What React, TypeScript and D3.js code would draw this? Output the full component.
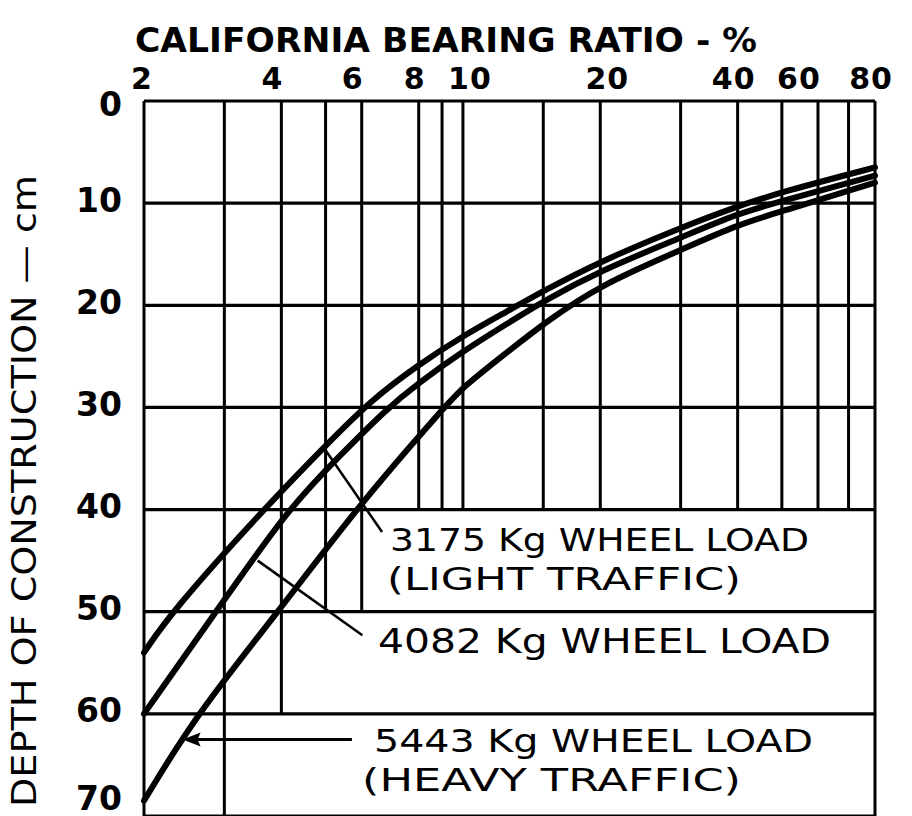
import React from 'react';
import * as d3 from 'd3';

// CBR values (log axis)
const cbrTicks = [2, 4, 6, 8, 10, 20, 40, 60, 80];
const cbrGrid = [2, 3, 4, 5, 6, 8, 9, 10, 15, 20, 30, 40, 50, 60, 70, 80];
// depth where each vertical grid line stops (the label boxes cut them)
const gridStop = [70, 70, 60, 50, 50, 40, 40, 40, 40, 40, 40, 40, 40, 40, 40, 70];
const depthTicks = [0, 10, 20, 30, 40, 50, 60, 70];

// depth of construction (cm) vs CBR (%)
const light3175: [number, number][] = [
  [2, 54.0], [2.3, 50], [3.65, 40], [5.19, 33.0], [6.26, 29.4], [7.94, 25.9],
  [10, 23.0], [12.5, 20.6], [15, 18.6], [20, 15.7], [30, 12.4], [40, 10.3],
  [50, 8.9], [80, 6.5],
];
const medium4082: [number, number][] = [
  [2, 60], [2.88, 50], [4.12, 40], [5.38, 34.7], [6.82, 30.1], [7.94, 27.7],
  [10, 24.5], [12.5, 21.8], [15, 19.6], [20, 16.6], [30, 13.4], [40, 11.0],
  [50, 9.8], [80, 7.3],
];
const heavy5443: [number, number][] = [
  [2, 68.5], [2.61, 60], [3.94, 50], [6.0, 39.2], [9.1, 30], [10, 28.0],
  [12.5, 24.6], [15, 21.8], [20, 18.0], [30, 14.6], [40, 12.1], [50, 10.8],
  [80, 8.0],
];

// pointer lines from the labels to the curves: [cbr, depth] start -> end
const pointers: [number, number][][] = [
  [[6.65, 42.2], [5.0, 34.2]],
  [[6.02, 52.3], [3.55, 45.0]],
];
const arrow5443: [number, number][] = [[5.71, 62.5], [2.43, 62.5]];

const W = 912;
const H = 816;
const FONT = "'DejaVu Sans', sans-serif";

export default function App() {
  const x = d3.scaleLog().domain([2, 80]).range([144, 875]);
  const y = d3.scaleLinear().domain([0, 70]).range([101, 816]);

  const line = d3
    .line<[number, number]>()
    .x((d) => x(d[0]))
    .y((d) => y(d[1]))
    .curve(d3.curveBasis);

  // small nudges so the top numbers sit like the hand lettering
  const tickShift: Record<number, number> = { 2: -2, 4: -9, 6: -9, 8: -4, 10: 7, 20: 7, 40: -4, 60: -19, 80: -4 };
  const depthShift: Record<number, number> = { 0: 6, 70: -15 };

  return (
    <svg
      width={W}
      height={H}
      style={{ position: 'absolute', left: 0, top: 0, background: '#fff' }}
      fontFamily={FONT}
    >
      <rect width={W} height={H} fill="#fff" />

      {/* horizontal grid */}
      {depthTicks.map((d) => (
        <line key={'h' + d} x1={x(2)} x2={x(80)} y1={y(d)} y2={y(d)} stroke="#000" strokeWidth={3.2} />
      ))}
      {/* vertical grid */}
      {cbrGrid.map((c, i) => (
        <line key={'v' + c} x1={x(c)} x2={x(c)} y1={y(0)} y2={y(gridStop[i])} stroke="#000" strokeWidth={3} />
      ))}

      {/* curves */}
      {[light3175, medium4082, heavy5443].map((s, i) => (
        <path key={'c' + i} d={line(s) || ''} fill="none" stroke="#000" strokeWidth={6} strokeLinecap="round" />
      ))}

      {/* pointers */}
      {pointers.map((p, i) => (
        <line key={'p' + i} x1={x(p[0][0])} y1={y(p[0][1])} x2={x(p[1][0])} y2={y(p[1][1])} stroke="#000" strokeWidth={2.5} />
      ))}
      <line
        x1={x(arrow5443[0][0])} y1={y(arrow5443[0][1])}
        x2={x(arrow5443[1][0]) + 14} y2={y(arrow5443[1][1])}
        stroke="#000" strokeWidth={3}
      />
      <path
        d={`M${x(arrow5443[1][0])},${y(arrow5443[1][1])} l18,-7 l-3,7 l3,7 Z`}
        fill="#000"
      />

      {/* top axis numbers */}
      {cbrTicks.map((c) => (
        <text key={'t' + c} x={x(c) + (tickShift[c] || 0)} y={89} textAnchor="middle" fontSize={30} fontWeight="bold" letterSpacing={1}>
          {c}
        </text>
      ))}
      {/* depth numbers */}
      {depthTicks.map((d) => (
        <text key={'d' + d} x={122} y={y(d) - 3 + (depthShift[d] || 0)} textAnchor="end" dominantBaseline="central" fontSize={33} fontWeight="bold">
          {d}
        </text>
      ))}

      {/* titles */}
      <text x={135} y={52} fontSize={33} fontWeight="bold" textLength={622} lengthAdjust="spacingAndGlyphs">
        CALIFORNIA BEARING RATIO - %
      </text>
      <text
        transform="translate(24,491) rotate(-90)"
        textAnchor="middle"
        dominantBaseline="central"
        fontSize={34}
        textLength={632}
        lengthAdjust="spacingAndGlyphs"
      >
        DEPTH OF CONSTRUCTION — cm
      </text>

      {/* curve labels */}
      <text x={390} y={551} fontSize={32} textLength={419} lengthAdjust="spacingAndGlyphs">3175 Kg WHEEL LOAD</text>
      <text x={387} y={590} fontSize={32} textLength={354} lengthAdjust="spacingAndGlyphs">(LIGHT TRAFFIC)</text>
      <text x={378} y={653} fontSize={34} textLength={453} lengthAdjust="spacingAndGlyphs">4082 Kg WHEEL LOAD</text>
      <text x={374} y={752} fontSize={32} textLength={439} lengthAdjust="spacingAndGlyphs">5443 Kg WHEEL LOAD</text>
      <text x={362} y={791} fontSize={32} textLength={379} lengthAdjust="spacingAndGlyphs">(HEAVY TRAFFIC)</text>
    </svg>
  );
}
